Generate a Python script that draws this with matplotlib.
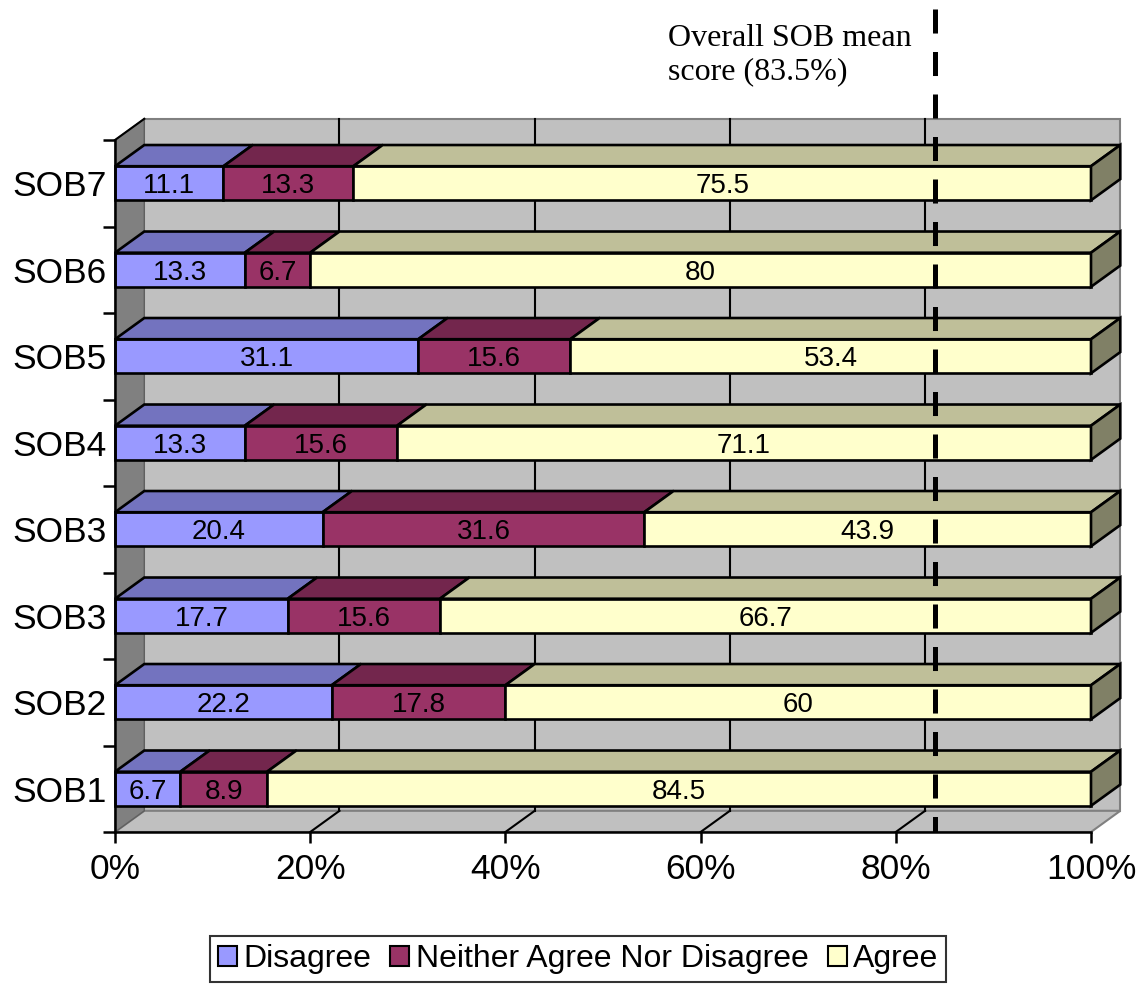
import numpy as np
import matplotlib
matplotlib.use("Agg")
import matplotlib.pyplot as plt
from matplotlib.patches import Polygon, Rectangle, Patch

plt.rcParams['font.family'] = ['Liberation Sans', 'DejaVu Sans']
plt.rcParams['lines.scale_dashes'] = False

# data (bottom to top)
categories = ["SOB1", "SOB2", "SOB3", "SOB3", "SOB4", "SOB5", "SOB6", "SOB7"]
disagree = [6.7, 22.2, 17.7, 20.4, 13.3, 31.1, 13.3, 11.1]
neither = [8.9, 17.8, 15.6, 31.6, 15.6, 15.6, 6.7, 13.3]
agree = [84.5, 60, 66.7, 43.9, 71.1, 53.4, 80, 75.5]
series_names = ["Disagree", "Neither Agree Nor Disagree", "Agree"]
xticks = [0, 20, 40, 60, 80, 100]
mean_label = "Overall SOB mean\nscore (83.5%)"
mean_line_x = 84.0   # where the dashed line sits in the picture

colors = ["#9999FF", "#993366", "#FFFFCC"]
dx, dy = 3.0, 0.245      # depth offset of the 3d box (data units)
h = 0.197                # half bar height
lw = 1.9

def shade(c, f):
    r, g, b = matplotlib.colors.to_rgb(c)
    return (r * f, g * f, b * f)

fig = plt.figure(figsize=(11.44, 9.85), dpi=100)
ax = fig.add_axes([115 / 1144, 153 / 985, 976 / 1144, 692 / 985])
ax.set_xlim(0, 100)
ax.set_ylim(-0.5, 7.5)
ax.set_facecolor("none")
y0, y1 = -0.5, len(categories) - 0.5

# walls
back = Rectangle((dx, y0 + dy), 100, y1 - y0, fc="#C0C0C0", ec="#808080", lw=1.5, clip_on=False, zorder=1)
ax.add_patch(back)
floor = Polygon([(0, y0), (100, y0), (100 + dx, y0 + dy), (dx, y0 + dy)], closed=True,
                fc="#C0C0C0", ec="#808080", lw=1.5, clip_on=False, zorder=1)
ax.add_patch(floor)
left = Polygon([(0, y0), (dx, y0 + dy), (dx, y1 + dy), (0, y1)], closed=True,
               fc="#808080", ec="#606060", lw=1.0, clip_on=False, zorder=1.1)
ax.add_patch(left)
ax.plot([0, dx], [y1, y1 + dy], color="black", lw=1.5, clip_on=False, zorder=1.2)

# gridlines on back wall and floor
for t in xticks[1:-1]:
    ax.plot([t + dx, t + dx], [y0 + dy, y1 + dy], color="black", lw=1.5, clip_on=False, zorder=2)
    ax.plot([t, t + dx], [y0, y0 + dy], color="black", lw=1.5, clip_on=False, zorder=2)

# bars (100% stacked)
data = np.array([disagree, neither, agree])
pct = data / data.sum(axis=0) * 100
for i in range(len(categories)):
    lefts = np.concatenate([[0], np.cumsum(pct[:, i])[:-1]])
    for k in range(3):
        l, w = lefts[k], pct[k, i]
        r = l + w
        ax.add_patch(Rectangle((l, i - h), w, 2 * h, fc=colors[k], ec="black", lw=lw, clip_on=False, zorder=3))
        ax.add_patch(Polygon([(l, i + h), (r, i + h), (r + dx, i + h + dy), (l + dx, i + h + dy)], closed=True,
                             fc=shade(colors[k], 0.75), ec="black", lw=lw, clip_on=False, zorder=3))
        if k == 2:
            ax.add_patch(Polygon([(r, i - h), (r + dx, i - h + dy), (r + dx, i + h + dy), (r, i + h)], closed=True,
                                 fc=shade(colors[k], 0.5), ec="black", lw=lw, clip_on=False, zorder=3))
        ax.text(l + w / 2, i, f"{data[k, i]:g}", ha="center", va="center_baseline", fontsize=20, zorder=4)

# axes
for s in ["top", "right"]:
    ax.spines[s].set_visible(False)
for s in ["left", "bottom"]:
    ax.spines[s].set_linewidth(1.8)
    ax.spines[s].set_zorder(5)
ax.set_xticks(xticks)
ax.set_xticklabels([f"{t}%" for t in xticks], fontsize=25.5)
ax.tick_params(axis="x", length=8, width=1.8, pad=7)
ax.set_yticks(np.arange(y0, y1 + 0.1, 1.0))
ax.set_yticklabels([])
ax.tick_params(axis="y", which="major", length=8.6, width=1.8)
ax.set_yticks(range(len(categories)), minor=True)
ax.set_yticklabels(categories, minor=True, fontsize=25.5)
ax.tick_params(axis="y", which="minor", length=0, pad=6)

# mean line and note
ax.plot([mean_line_x, mean_line_x], [1.19, 0], transform=ax.get_xaxis_transform(), color="black",
        lw=3.6, dashes=(17.3, 13.3), clip_on=False, zorder=10)
fig.text(668 / 1144, 1 - 24 / 985, mean_label, family="Liberation Serif", fontsize=23,
         ha="left", va="top", linespacing=1.2)

# legend
handles = [Patch(fc=c, ec="black", lw=1.5) for c in colors]
leg = fig.legend(handles, series_names, loc="center", bbox_to_anchor=(578 / 1144, 1 - 959 / 985), ncol=3,
                 fontsize=23, frameon=True, fancybox=False, handlelength=0.6, handleheight=0.6,
                 handletextpad=0.2, columnspacing=0.6, borderpad=0.25)
leg.get_frame().set_edgecolor("black")
leg.get_frame().set_linewidth(1.5)

fig.savefig("out.png", dpi=100)
